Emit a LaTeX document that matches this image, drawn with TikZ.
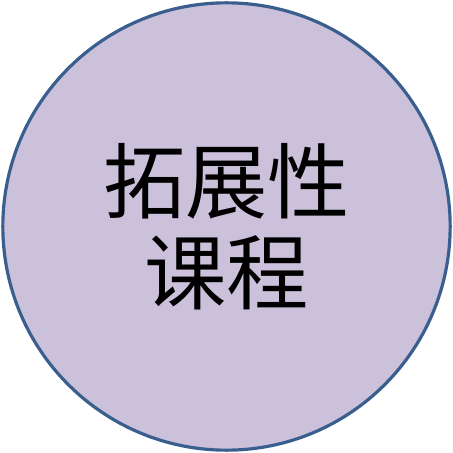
\documentclass[tikz,border=0pt]{standalone}
\usepackage{fontspec}
\newfontfamily\cjk{Noto Sans CJK SC}
\definecolor{fillpurple}{HTML}{CCC1DA}
\definecolor{edgeblue}{HTML}{3A5F8E}
\tikzset{circ/.style={circle,draw=edgeblue,fill=fillpurple,line width=2.4pt,minimum size=11.85cm,inner sep=0pt,align=center,font=\cjk\fontsize{62}{69}\selectfont}}
\begin{document}
\begin{tikzpicture}
\useasboundingbox (0,0) rectangle (12,12);
\node[circ] (c) at (6,6) {拓展性\\课程};
\end{tikzpicture}
\end{document}
